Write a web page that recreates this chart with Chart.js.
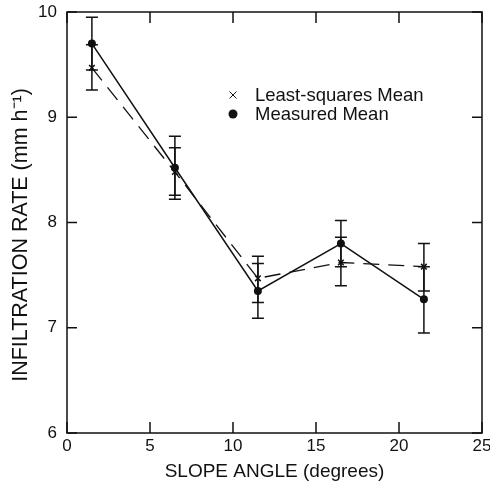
<!DOCTYPE html>
<html><head><meta charset="utf-8">
<script src="https://cdn.jsdelivr.net/npm/chart.js@4/dist/chart.umd.min.js"></script>
<style>html,body{margin:0;padding:0;background:#fff}#wrap{width:490px;height:489px}</style>
</head><body><div id="wrap"><canvas id="c" width="490" height="489"></canvas></div>
<script>
const slopeAngles = [1.5, 6.5, 11.5, 16.5, 21.5];
const measuredMean = [9.70, 8.52, 7.35, 7.80, 7.27];
const measuredLow  = [9.45, 8.22, 7.09, 7.58, 6.95];
const measuredHigh = [9.95, 8.82, 7.61, 8.02, 7.58];
const lsMean = [9.47, 8.48, 7.47, 7.62, 7.58];
const lsLow  = [9.26, 8.26, 7.24, 7.40, 7.35];
const lsHigh = [9.69, 8.71, 7.68, 7.86, 7.80];
const xTicks = [0, 5, 10, 15, 20, 25];
const yTicks = [6, 7, 8, 9, 10];
const legendLabels = ['Least-squares Mean', 'Measured Mean'];
const xTitle = 'SLOPE ANGLE (degrees)';
const yTitle = 'INFILTRATION RATE (mm h\u207B\u00B9)';

const INK = '#111';
const FONT = '"Liberation Sans", Arial, Helvetica, sans-serif';

const toPts = (xs, ys) => xs.map((x, i) => ({x, y: ys[i]}));

const errorBars = {
  id: 'errorBars',
  afterDatasetsDraw(chart) {
    const ctx = chart.ctx, ys = chart.scales.y;
    chart.data.datasets.forEach((ds, di) => {
      const meta = chart.getDatasetMeta(di);
      ctx.save();
      ctx.strokeStyle = INK; ctx.lineWidth = 1.5; ctx.setLineDash([]);
      meta.data.forEach((pt, i) => {
        const x = pt.x;
        const yl = ys.getPixelForValue(ds.errLow[i]);
        const yh = ys.getPixelForValue(ds.errHigh[i]);
        ctx.beginPath();
        ctx.moveTo(x, yl); ctx.lineTo(x, yh);
        ctx.moveTo(x - 6, yl); ctx.lineTo(x + 6, yl);
        ctx.moveTo(x - 6, yh); ctx.lineTo(x + 6, yh);
        ctx.stroke();
      });
      ctx.restore();
    });
  }
};

const frame = {
  id: 'frame',
  afterDraw(chart) {
    const ctx = chart.ctx, a = chart.chartArea;
    const xs = chart.scales.x, ys = chart.scales.y;
    ctx.save();
    ctx.strokeStyle = INK; ctx.lineWidth = 1.5;
    ctx.strokeRect(a.left, a.top, a.right - a.left, a.bottom - a.top);
    ctx.beginPath();
    xTicks.forEach(v => {
      const p = xs.getPixelForValue(v);
      ctx.moveTo(p, a.bottom); ctx.lineTo(p, a.bottom - 11);
      ctx.moveTo(p, a.top); ctx.lineTo(p, a.top + 11);
    });
    yTicks.forEach(v => {
      const p = ys.getPixelForValue(v);
      ctx.moveTo(a.left, p); ctx.lineTo(a.left + 10, p);
      ctx.moveTo(a.right, p); ctx.lineTo(a.right - 10, p);
    });
    ctx.stroke();
    // y-axis title
    ctx.fillStyle = INK;
    ctx.save();
    ctx.translate(21, 235);
    ctx.rotate(-Math.PI / 2);
    ctx.font = '21.5px ' + FONT;
    ctx.textAlign = 'center';
    ctx.textBaseline = 'middle';
    ctx.fillText(yTitle, 0, 0);
    ctx.restore();
    // legend
    ctx.font = '18.5px ' + FONT;
    ctx.textBaseline = 'middle';
    const lx = 233, ly1 = 95, ly2 = 114, tx = 255;
    ctx.lineWidth = 1;
    ctx.beginPath();
    ctx.moveTo(lx - 3.5, ly1 - 3.5); ctx.lineTo(lx + 3.5, ly1 + 3.5);
    ctx.moveTo(lx - 3.5, ly1 + 3.5); ctx.lineTo(lx + 3.5, ly1 - 3.5);
    ctx.stroke();
    ctx.beginPath(); ctx.arc(lx, ly2, 4.5, 0, Math.PI * 2); ctx.fill();
    ctx.fillText(legendLabels[0], tx, ly1 + 1);
    ctx.fillText(legendLabels[1], tx, ly2 + 1);
    ctx.restore();
  }
};

new Chart(document.getElementById('c'), {
  type: 'line',
  data: {
    datasets: [
      {
        label: legendLabels[0],
        data: toPts(slopeAngles, lsMean),
        errLow: lsLow, errHigh: lsHigh,
        borderColor: INK, backgroundColor: INK, borderWidth: 1.3,
        borderDash: [16, 9],
        pointStyle: 'crossRot', pointRadius: 4, pointBorderWidth: 1.5,
        pointBorderColor: INK, tension: 0
      },
      {
        label: legendLabels[1],
        data: toPts(slopeAngles, measuredMean),
        errLow: measuredLow, errHigh: measuredHigh,
        borderColor: INK, backgroundColor: INK, borderWidth: 1.5,
        pointStyle: 'circle', pointRadius: 4, pointBorderWidth: 0,
        pointBackgroundColor: INK, tension: 0
      }
    ]
  },
  options: {
    responsive: false, animation: false, devicePixelRatio: 1,
    layout: { padding: { top: 12, right: 8, left: 0, bottom: 0 } },
    plugins: { legend: { display: false }, tooltip: { enabled: false } },
    scales: {
      x: {
        type: 'linear', min: 0, max: 25,
        afterBuildTicks: s => { s.ticks = xTicks.map(v => ({value: v})); },
        afterFit: s => { s.height = 56; s.paddingLeft = 0; s.paddingRight = 0; },
        grid: { display: false, drawTicks: false }, border: { display: false },
        ticks: { color: INK, font: { size: 17, family: FONT }, padding: 3, maxRotation: 0 },
        title: { display: true, text: xTitle, color: INK, font: { size: 19, family: FONT }, padding: { top: 0, bottom: 6 } }
      },
      y: {
        type: 'linear', min: 6, max: 10,
        afterBuildTicks: s => { s.ticks = yTicks.map(v => ({value: v})); },
        afterFit: s => { s.width = 67; s.paddingTop = 0; s.paddingBottom = 0; },
        grid: { display: false, drawTicks: false }, border: { display: false },
        ticks: { color: INK, font: { size: 17, family: FONT }, padding: 10 },
        title: { display: false, text: yTitle }
      }
    }
  },
  plugins: [errorBars, frame]
});
</script></body></html>
